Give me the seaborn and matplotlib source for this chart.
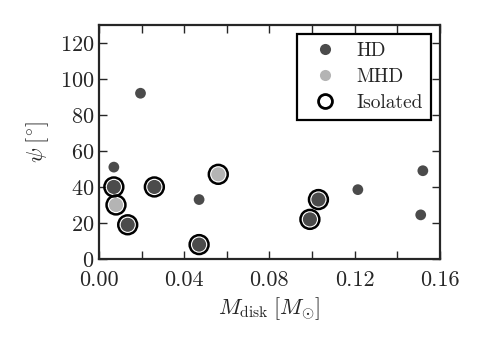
import numpy as np
import pandas as pd
import seaborn as sns
import matplotlib.pyplot as plt
from matplotlib.lines import Line2D

# disk mass [Msun], misalignment angle psi [deg]
hd_mdisk = [0.007, 0.0195, 0.047, 0.1215, 0.152, 0.151,
            0.007, 0.026, 0.0135, 0.047, 0.103, 0.099]
hd_psi = [51, 92, 33, 38.5, 49, 24.5,
          40, 40, 19, 8, 33, 22]
hd_isolated = [False, False, False, False, False, False,
               True, True, True, True, True, True]

mhd_mdisk = [0.008, 0.056]
mhd_psi = [30, 47]
mhd_isolated = [True, True]

x_ticks = [0.00, 0.02, 0.04, 0.06, 0.08, 0.10, 0.12, 0.14, 0.16]
x_ticklabels = ["0.00", "", "0.04", "", "0.08", "", "0.12", "", "0.16"]
y_ticks = [0, 20, 40, 60, 80, 100, 120]

hd = pd.DataFrame({"mdisk": hd_mdisk, "psi": hd_psi, "sim": "HD", "isolated": hd_isolated})
mhd = pd.DataFrame({"mdisk": mhd_mdisk, "psi": mhd_psi, "sim": "MHD", "isolated": mhd_isolated})
data = pd.concat([hd, mhd], ignore_index=True)

sns.set_style("ticks")
plt.rcParams["font.family"] = ["cmr10", "DejaVu Serif"]
plt.rcParams["mathtext.fontset"] = "cm"
plt.rcParams["axes.formatter.use_mathtext"] = True
plt.rcParams["xtick.direction"] = "in"
plt.rcParams["ytick.direction"] = "in"
plt.rcParams["xtick.top"] = True
plt.rcParams["ytick.right"] = True

colors = {"HD": "#4b4b4b", "MHD": "#b4b4b4"}

fig = plt.figure(figsize=(4.85, 3.46), dpi=100)
ax = fig.add_axes([0.204, 0.2514, 0.703, 0.677])

free = data[~data["isolated"]]
iso = data[data["isolated"]]

sns.scatterplot(data=free, x="mdisk", y="psi", hue="sim", palette=colors,
                s=60, edgecolor="none", legend=False, ax=ax, zorder=3)
sns.scatterplot(data=iso, x="mdisk", y="psi", hue="sim", palette=colors,
                s=120, edgecolor="white", linewidth=0.8, legend=False, ax=ax, zorder=3)
ax.scatter(iso["mdisk"], iso["psi"], s=185, facecolors="none",
           edgecolors="black", linewidths=1.8, zorder=4)

ax.set_xlim(0, 0.16)
ax.set_ylim(0, 130)
ax.set_xticks(x_ticks)
ax.set_xticklabels(x_ticklabels)
ax.set_yticks(y_ticks)
ax.tick_params(labelsize=16, length=6, width=1.0)
ax.tick_params(axis="x", pad=8)
for sp in ax.spines.values():
    sp.set_linewidth(1.6)

ax.set_xlabel(r"$M_{\rm disk}\;[M_{\odot}]$", fontsize=16, labelpad=4)
ax.set_ylabel(r"$\psi\;[^{\circ}]$", fontsize=16, labelpad=6)

handles = [
    Line2D([], [], marker="o", ls="none", color=colors["HD"], markersize=8, markeredgewidth=0),
    Line2D([], [], marker="o", ls="none", color=colors["MHD"], markersize=8, markeredgewidth=0),
    Line2D([], [], marker="o", ls="none", markerfacecolor="none", markeredgecolor="black",
           markersize=10, markeredgewidth=2.0),
]
leg = ax.legend(handles, ["HD", "MHD", "Isolated"], loc="upper right", fontsize=14,
                frameon=True, fancybox=False, edgecolor="black", framealpha=1,
                borderaxespad=0.45, handletextpad=0.6, labelspacing=0.4, borderpad=0.45)
leg.get_frame().set_linewidth(1.6)

fig.savefig("out.png", dpi=100)
